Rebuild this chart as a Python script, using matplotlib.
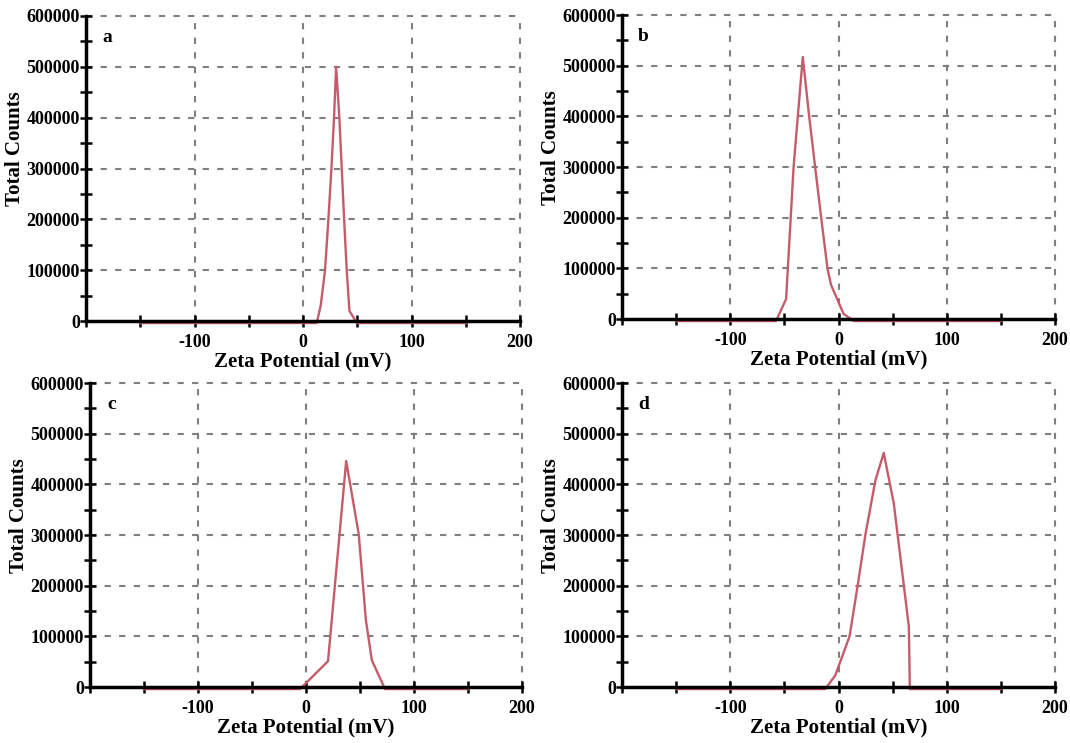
import matplotlib
matplotlib.use('Agg')
import matplotlib.pyplot as plt
from matplotlib.ticker import MultipleLocator, FuncFormatter

plt.rcParams['font.family'] = ['Liberation Serif', 'DejaVu Serif']
plt.rcParams['font.weight'] = 'bold'

# zeta potential (mV) vs total counts
a_x = [-150, 12.6, 16.3, 20.3, 23.4, 26.2, 28.6, 30.5, 33.5, 35.7, 37.9, 40.3, 42.8, 49.6, 150]
a_y = [-4000, -4000, 30000, 100000, 200000, 300000, 400000, 500000, 400000, 300000, 200000, 100000, 20000, -4000, -4000]

b_x = [-150, -57.7, -48.4, -41.5, -33, -27.1, -21.6, -16, -10.2, -7, 4.6, 14, 150]
b_y = [-4000, -4000, 39500, 300000, 517000, 400000, 300000, 200000, 100000, 68000, 10500, -4000, -4000]

c_x = [-150, -5.5, 20.4, 37.2, 48.8, 55.5, 61, 73.2, 150]
c_y = [-4000, -4000, 51000, 446000, 302000, 131000, 52500, -4000, -4000]

d_x = [-150, -12.4, -3.1, 10.2, 17.7, 24.8, 34.1, 41.8, 51.1, 65, 65.9, 150]
d_y = [-4000, -4000, 22300, 100000, 200000, 300000, 408000, 462000, 362000, 119000, -4000, -4000]

panels = [('a', a_x, a_y), ('b', b_x, b_y), ('c', c_x, c_y), ('d', d_x, d_y)]

# axes rectangles in pixels: left, top(600000), right(200), bottom(0)
rects = [(86, 16, 520, 321), (622, 15, 1055, 319), (90, 383, 522, 687), (622, 383, 1055, 687)]

W, H = 1070, 743
fig = plt.figure(figsize=(W / 100, H / 100), dpi=100)

xfmt = FuncFormatter(lambda v, p: '%d' % v if v in (-100, 0, 100, 200) else '')
yfmt = FuncFormatter(lambda v, p: '%d' % v if v % 100000 == 0 else '')

for (letter, xs, ys), (l, t, r, b) in zip(panels, rects):
    ax = fig.add_axes([l / W, (H - b) / H, (r - l) / W, (b - t) / H])
    ax.set_xlim(-200, 200)
    ax.set_ylim(0, 600000)
    for v in (-100, 0, 100, 200):
        ax.axvline(v, color='#7f7f7f', ls=(0, (3, 4)), lw=1.5, zorder=1, clip_on=False)
    for v in range(100000, 600001, 100000):
        ax.axhline(v, color='#7f7f7f', ls=(0, (3, 4)), lw=1.5, zorder=1, clip_on=False)
    ax.plot(xs, ys, color='#c45c6a', lw=1.7, zorder=2, clip_on=False)
    ax.spines['top'].set_visible(False)
    ax.spines['right'].set_visible(False)
    ax.spines['left'].set_linewidth(2.5)
    ax.spines['bottom'].set_linewidth(2.5)
    ax.spines['left'].set_zorder(3)
    ax.spines['bottom'].set_zorder(3)
    ax.xaxis.set_major_locator(MultipleLocator(50))
    ax.yaxis.set_major_locator(MultipleLocator(50000))
    ax.xaxis.set_major_formatter(xfmt)
    ax.yaxis.set_major_formatter(yfmt)
    ax.tick_params(direction='inout', length=9, width=1.8, labelsize=13)
    ax.tick_params(axis='x', pad=5)
    ax.tick_params(axis='y', pad=0)
    ax.set_xlabel('Zeta Potential (mV)', fontsize=15, fontweight='bold', labelpad=0)
    ax.set_ylabel('Total Counts', fontsize=15, fontweight='bold')
    # label sits about 60 px left of the spine
    ax.yaxis.set_label_coords(-61 / (r - l), 0.565)
    ax.text(0.05, 0.93, letter, transform=ax.transAxes, fontsize=14, fontweight='bold',
            ha='center', va='center')

fig.savefig('out.png', dpi=100)
